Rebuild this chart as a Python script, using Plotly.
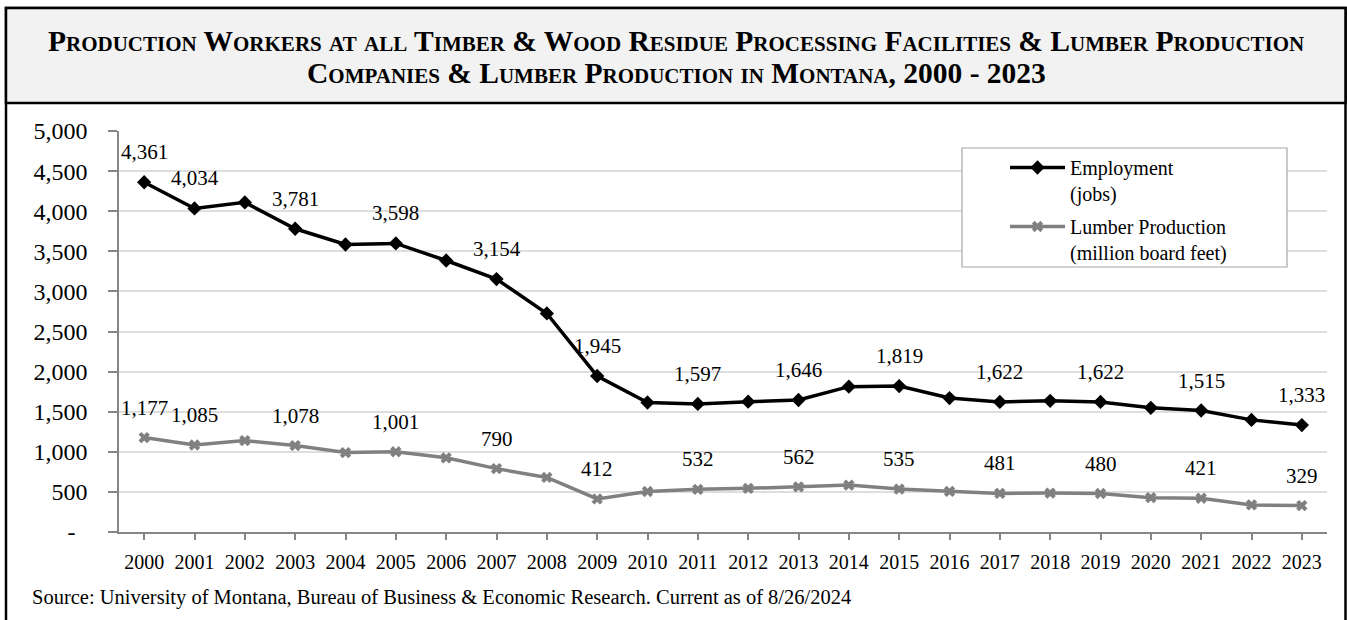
import plotly.graph_objects as go

# ---------------- data ----------------
years = ["2000", "2001", "2002", "2003", "2004", "2005", "2006", "2007",
         "2008", "2009", "2010", "2011", "2012", "2013", "2014", "2015",
         "2016", "2017", "2018", "2019", "2020", "2021", "2022", "2023"]
employment = [4361, 4034, 4110, 3781, 3585, 3598, 3385, 3154,
              2725, 1945, 1615, 1597, 1625, 1646, 1812, 1819,
              1670, 1622, 1635, 1622, 1548, 1515, 1398, 1333]
lumber = [1177, 1085, 1140, 1078, 990, 1001, 925, 790,
          680, 412, 505, 532, 544, 562, 585, 535,
          507, 481, 485, 480, 428, 421, 338, 329]
labeled_years = ["2000", "2001", "2003", "2005", "2007", "2009", "2011",
                 "2013", "2015", "2017", "2019", "2021", "2023"]
y_tick_vals = [0, 500, 1000, 1500, 2000, 2500, 3000, 3500, 4000, 4500, 5000]
y_tick_text = ["-\u00a0\u00a0", "500", "1,000", "1,500", "2,000", "2,500",
               "3,000", "3,500", "4,000", "4,500", "5,000"]
series_names = ["Employment<br>(jobs)", "Lumber Production<br>(million board feet)"]
title_line1 = "Production Workers at all Timber &amp; Wood Residue Processing Facilities &amp; Lumber Production"
title_line2 = "Companies &amp; Lumber Production in Montana, 2000 - 2023"
source_text = "Source: University of Montana, Bureau of Business &amp; Economic Research. Current as of 8/26/2024"

# ---------------- layout geometry (pixels) ----------------
W, H = 1347, 620
PL, PR, PT, PB = 119, 1327, 131, 532


def px(x):
    return (x - PL) / (PR - PL)


def py(y):
    return (PB - y) / (PB - PT)


SERIF = "Liberation Serif"
BLACK = "#000000"
GRAY = "#808080"
AXIS = "#868686"

fig = go.Figure()
fig.add_trace(go.Scatter(
    x=years, y=employment, name=series_names[0], mode="lines+markers",
    line=dict(color=BLACK, width=3.5),
    marker=dict(symbol="diamond", size=11, color=BLACK),
    hoverinfo="skip", legendgroup="emp",
))
fig.add_trace(go.Scatter(
    x=years, y=lumber, name=series_names[1], mode="lines+markers",
    line=dict(color=GRAY, width=3.5),
    marker=dict(symbol="x", size=10, color=GRAY),
    hoverinfo="skip", legendgroup="lum",
))

annotations = []
for series in (employment, lumber):
    for idx, (yr, v) in enumerate(zip(years, series)):
        if yr in labeled_years:
            annotations.append(dict(
                x=idx, y=v, xref="x", yref="y", text=f"{v:,}",
                showarrow=False, yshift=30, yanchor="middle",
                font=dict(family=SERIF, size=21, color=BLACK),
            ))

annotations += [
    dict(x=px(676), y=py(41), xref="paper", yref="paper", text=title_line1,
         showarrow=False, xanchor="center", yanchor="middle",
         font=dict(family=SERIF, size=29.5, color=BLACK, weight="bold",
                   variant="small-caps")),
    dict(x=px(676), y=py(73), xref="paper", yref="paper", text=title_line2,
         showarrow=False, xanchor="center", yanchor="middle",
         font=dict(family=SERIF, size=29.5, color=BLACK, weight="bold",
                   variant="small-caps")),
    dict(x=px(30), y=py(597), xref="paper", yref="paper", text=source_text,
         showarrow=False, xanchor="left", yanchor="middle",
         font=dict(family=SERIF, size=20.5, color=BLACK)),
]

shapes = [
    # outer frame
    dict(type="rect", xref="paper", yref="paper",
         x0=px(6), x1=px(1345.5), y0=py(8), y1=py(650),
         line=dict(color=BLACK, width=2.5), fillcolor="rgba(0,0,0,0)", layer="below"),
    # title box
    dict(type="rect", xref="paper", yref="paper",
         x0=px(6), x1=px(1345.5), y0=py(8), y1=py(103),
         line=dict(color=BLACK, width=2.5), fillcolor="#f2f2f2", layer="below"),
    # legend box
    dict(type="rect", xref="paper", yref="paper",
         x0=px(962), x1=px(1287), y0=py(148), y1=py(267),
         line=dict(color="#a6a6a6", width=1.2), fillcolor="#ffffff", layer="above"),
]

fig.update_layout(
    width=W, height=H,
    margin=dict(l=PL, r=W - PR, t=PT, b=H - PB),
    paper_bgcolor="#ffffff", plot_bgcolor="#ffffff",
    font=dict(family=SERIF, color=BLACK),
    showlegend=True,
    legend=dict(
        x=px(1005), y=py(148), xanchor="left", yanchor="top",
        bgcolor="rgba(0,0,0,0)", borderwidth=0,
        font=dict(family=SERIF, size=20, color=BLACK),
        valign="top", tracegroupgap=4, itemwidth=55,
    ),
    annotations=annotations,
    shapes=shapes,
    xaxis=dict(
        type="category", range=[-0.5, 23.5],
        showline=True, linecolor=AXIS, linewidth=1.5,
        ticks="outside", ticklen=6, tickcolor=AXIS, tickwidth=1.5,
        showgrid=False, zeroline=False,
        tickfont=dict(family=SERIF, size=20, color=BLACK),
        ticklabelstandoff=5, fixedrange=True,
    ),
    yaxis=dict(
        range=[0, 5000], tickmode="array",
        tickvals=y_tick_vals, ticktext=y_tick_text,
        showline=True, linecolor=AXIS, linewidth=1.5,
        ticks="outside", ticklen=9, tickcolor=AXIS, tickwidth=1.5,
        showgrid=True, gridcolor="#dedede", gridwidth=1.5, zeroline=False,
        tickfont=dict(family=SERIF, size=24, color=BLACK),
        ticklabelstandoff=16, fixedrange=True,
    ),
)

fig.write_html(
    "out.html",
    config={"displayModeBar": False},
    post_script="document.body.style.margin='0';document.body.style.overflow='hidden';",
)
